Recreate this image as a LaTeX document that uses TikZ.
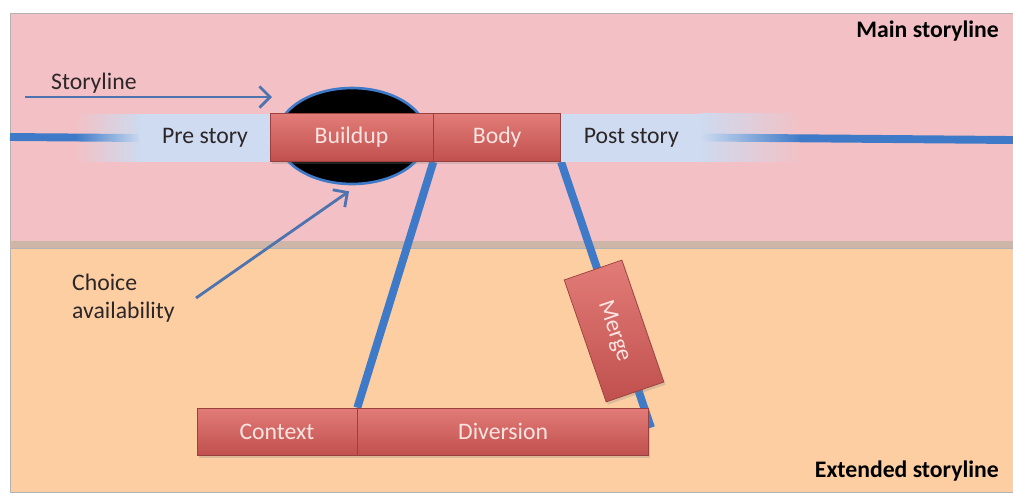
\documentclass[tikz,border=0pt]{standalone}
\usepackage{fontspec}
\setmainfont{Carlito}
\usepackage{xcolor}
\usetikzlibrary{shapes, arrows, arrows.meta, positioning, calc, shadows, fadings}

\definecolor{pinkbg}{RGB}{243,193,197}
\definecolor{orangebg}{RGB}{252,206,162}
\definecolor{seamcol}{RGB}{205,182,168}
\definecolor{boxred}{RGB}{192,80,77}
\definecolor{boxtop}{RGB}{226,124,120}
\definecolor{paleblue}{RGB}{206,219,240}
\definecolor{lineblue}{RGB}{62,122,200}
\definecolor{arrowblue}{RGB}{78,116,176}
\definecolor{boxtext}{RGB}{252,228,226}
\definecolor{inktext}{RGB}{45,38,40}

\tikzfading[name=fadein, left color=transparent!100, right color=transparent!0]
\tikzfading[name=fadeout, left color=transparent!0, right color=transparent!100]

\pgfdeclarelayer{bg}
\pgfdeclarelayer{lines}
\pgfsetlayers{bg,lines,main}

\begin{document}
\begin{tikzpicture}[x=0.02cm, y=-0.02cm,
    font=\fontsize{13.5}{16}\selectfont,
    redbox/.style={draw=boxred!80!black, line width=0.4pt, top color=boxtop, bottom color=boxred,
        text=boxtext, minimum height=0.96cm, inner sep=0pt,
        drop shadow={opacity=0.25, shadow xshift=1pt, shadow yshift=-1.5pt}},
    palebox/.style={fill=paleblue, text=inktext, minimum height=0.96cm, inner sep=0pt},
    thread/.style={lineblue, line width=4.5pt},
    pointer/.style={arrowblue, line width=1.6pt, -{Straight Barb[length=6pt, width=12pt]}}]
        \useasboundingbox (0,0) rectangle (1013,495);

        % Panels and the choice hole
        \begin{pgfonlayer}{bg}
            \fill[white] (0,0) rectangle (1013,495);
            \draw[fill=pinkbg, draw=black!30] (10,13) rectangle (1018,241);
            \fill[seamcol] (10,241) rectangle (1018,248);
            \draw[fill=orangebg, draw=black!30] (10,248) rectangle (1018,492);
            \node[ellipse, fill=black, draw=lineblue, line width=1.5pt,
                minimum width=3cm, minimum height=1.92cm] (gap) at (352,136) {};
        \end{pgfonlayer}

        % Main storyline
        \node[palebox, minimum width=2.6cm] (pre) at (205,138) {Pre story};
        \fill[paleblue, path fading=fadein] (75,114) rectangle (141,162);
        \node[redbox, minimum width=3.26cm] (buildup) at (351.5,137.5) {Buildup};
        \node[redbox, minimum width=2.54cm, right=0pt of buildup] (body) {Body};
        \node[palebox, minimum width=2.8cm, right=0pt of body] (post) {Post story};
        \fill[paleblue, path fading=fadeout] ($(post.north east)+(-1,0)$) rectangle ($(post.south east)+(100,0)$);

        % Extended storyline
        \node[redbox, minimum width=3.2cm, minimum height=0.94cm] (context) at (277,431.5) {Context};
        \node[redbox, minimum width=5.82cm, minimum height=0.94cm, right=0pt of context] (diversion) {Diversion};

        % Threads
        \coordinate (lin) at (10,137);
        \coordinate (rin) at (1013,140);
        \begin{pgfonlayer}{lines}
            \draw[thread] (lin) -- (pre.west);
            \draw[thread] (post.east) -- (rin);
            \draw[thread] (body.south west) -- (context.north east);
            \draw[thread] (post.south west) -- ($(diversion.north east)+(2,20)$);
        \end{pgfonlayer}

        \node[redbox, minimum width=2.58cm, minimum height=1.22cm, rotate=-71] (merge) at (614,331) {Merge};

        % Labels and pointers
        \node[anchor=base west, text=inktext] (storylbl) at (45,89) {Storyline};
        \coordinate (sa) at (25,97);
        \coordinate (sb) at (272,97);
        \draw[pointer] (sa) -- (sb);

        \node[anchor=west, align=left, text=inktext] (choicelbl) at (66,298) {Choice\\availability};
        \coordinate (ca) at (196,298);
        \draw[pointer] (ca) -- ($(gap.south)+(-3,6)$);

        \node[anchor=base east, font=\fontsize{13.5}{16}\selectfont\bfseries] (mainlbl) at (1005,37) {Main storyline};
        \node[anchor=base east, font=\fontsize{13.5}{16}\selectfont\bfseries] (extlbl) at (1005,477) {Extended storyline};

    \end{tikzpicture}
\end{document}
